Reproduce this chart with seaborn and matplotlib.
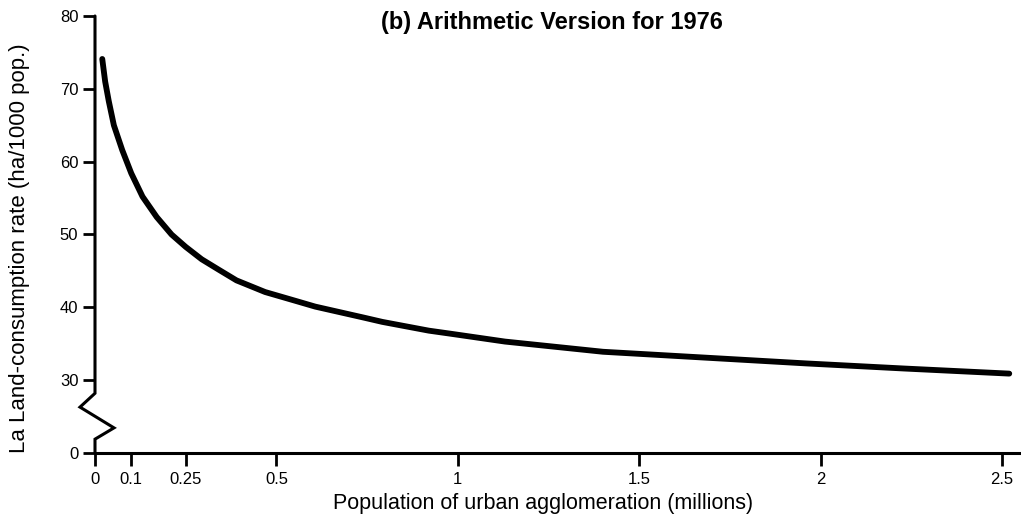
import matplotlib
matplotlib.use("Agg")
import matplotlib.pyplot as plt
import seaborn as sns
import pandas as pd

# ---- data ----
pop_millions = [0.020, 0.028, 0.038, 0.052, 0.075, 0.100, 0.131, 0.170, 0.211,
                0.250, 0.294, 0.340, 0.390, 0.469, 0.552, 0.607, 0.740, 0.792,
                0.920, 0.977, 1.130, 1.400, 1.680, 1.960, 2.230, 2.520]
land_rate = [74.1, 71.0, 68.3, 65.0, 61.6, 58.4, 55.2, 52.4, 50.0,
             48.3, 46.6, 45.2, 43.7, 42.1, 40.9, 40.1, 38.6, 38.0,
             36.8, 36.4, 35.3, 33.9, 33.1, 32.3, 31.6, 30.9]

x_ticks = [0, 0.1, 0.25, 0.5, 1, 1.5, 2, 2.5]
x_tick_labels = ["0", "0.1", "0.25", "0.5", "1", "1.5", "2", "2.5"]
# the axis is broken: the "0" label sits where 20 would be
y_ticks = [20, 30, 40, 50, 60, 70, 80]
y_tick_labels = ["0", "30", "40", "50", "60", "70", "80"]

title = "(b) Arithmetic Version for 1976"
x_label = "Population of urban agglomeration (millions)"
y_label = "La Land-consumption rate (ha/1000 pop.)"

df = pd.DataFrame({"pop": pop_millions, "rate": land_rate})

sns.set_style("white")
plt.rcParams["font.family"] = ["Liberation Sans", "DejaVu Sans"]
for k in ["text.color", "axes.labelcolor", "xtick.color", "ytick.color",
          "axes.edgecolor"]:
    plt.rcParams[k] = "black"

W, H = 1021, 522
fig = plt.figure(figsize=(W / 100, H / 100), dpi=100)
ax = fig.add_axes([95 / W, 69 / H, 926 / W, 437 / H])

sns.lineplot(data=df, x="pop", y="rate", ax=ax, color="black", linewidth=4.2,
             solid_capstyle="round", solid_joinstyle="round")

ax.set_xlim(0, 926 / 362.8)
ax.set_ylim(20, 80)
ax.set_xticks(x_ticks)
ax.set_xticklabels(x_tick_labels)
ax.set_yticks(y_ticks)
ax.set_yticklabels(y_tick_labels)
ax.set_xlabel("")
ax.set_ylabel("")

for s in ["top", "right", "left"]:
    ax.spines[s].set_visible(False)
ax.spines["bottom"].set_color("black")
ax.spines["bottom"].set_linewidth(2.2)

ax.tick_params(axis="both", which="major", bottom=True, left=True,
               direction="out", length=9, width=2, colors="black",
               labelsize=12)
ax.tick_params(axis="x", pad=4.5)
ax.tick_params(axis="y", pad=3)

# broken y axis with zigzag
tr = ax.get_yaxis_transform()
ax.plot([0, 0, -0.0162, 0.0205, 0, 0], [80, 28.2, 26.3, 23.45, 21.9, 20],
        transform=tr, color="black", linewidth=2.2, clip_on=False,
        solid_joinstyle="miter")

fig.text(552 / W, 1 - 23 / H, title, ha="center", va="center",
         fontsize=17, fontweight="bold")
fig.text(543 / W, 1 - 503 / H, x_label, ha="center", va="center", fontsize=15.5)
fig.text(20 / W, 1 - 248 / H, y_label, ha="center", va="center", fontsize=16,
         rotation=90)

fig.savefig("out.png", dpi=100, facecolor="white")
